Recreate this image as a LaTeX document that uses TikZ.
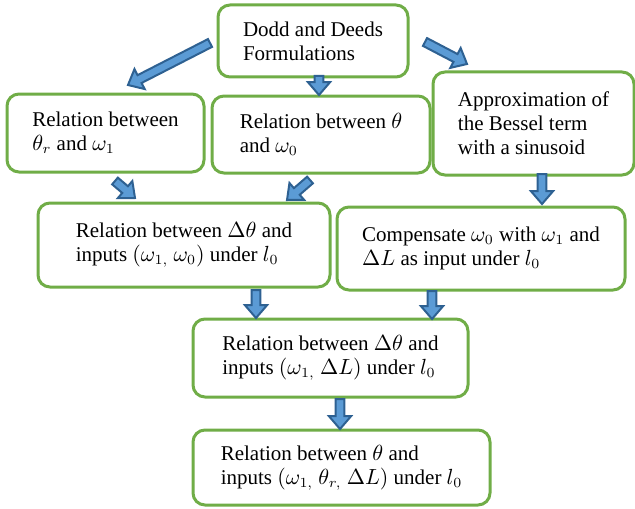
\documentclass[tikz,border=0pt]{standalone}
\usepackage{fontspec}
\setmainfont{Liberation Serif}
\usetikzlibrary{calc}
\definecolor{boxgreen}{HTML}{70AD47}
\definecolor{arrowfill}{HTML}{5B9BD5}
\definecolor{arrowedge}{HTML}{2E6192}
\def\blockarrow(#1)(#2){%
	\coordinate (ba-h) at ($(#2)!6.5pt!(#1)$);
	\draw[line width=1pt, draw=arrowedge, fill=arrowfill]
	($(#1)!2.2pt!-90:(#2)$) -- ($(ba-h)!2.2pt!90:(#1)$) -- ($(ba-h)!5.6pt!90:(#1)$) -- (#2)
	-- ($(ba-h)!5.6pt!-90:(#1)$) -- ($(ba-h)!2.2pt!-90:(#1)$) -- ($(#1)!2.2pt!90:(#2)$) -- cycle;}
\tikzset{stage/.style={draw=boxgreen, line width=1.5pt, rounded corners=6pt, fill=white,
	align=left, inner sep=0pt, font=\fontsize{10.5}{12}\selectfont}}

\begin{document}
\begin{tikzpicture}[x=0.5pt, y=-0.5pt]
			%%%%% START %%%%%
			\useasboundingbox (0,0) rectangle (635,508);
			
			\node[stage, minimum width=95pt, minimum height=36pt] (dodd) at (313,41) {Dodd and Deeds\\Formulations};
			\node[stage, minimum width=98.5pt, minimum height=39pt] (thetar) at (105.5,133) {Relation between\\$\theta_r$ and $\omega_1$};
			\node[stage, minimum width=109pt, minimum height=38.5pt] (theta) at (321,134.5) {Relation between $\theta$\\and $\omega_0$};
			\node[stage, minimum width=100.5pt, minimum height=51.5pt] (bessel) at (533.5,123.5) {Approximation of\\the Bessel term\\with a sinusoid};
			
			\node[stage, minimum width=146pt, minimum height=42pt] (dtheta) at (184,245) {Relation between $\Delta\theta$ and\\inputs $(\omega_{1,}\ \omega_0)$ under $l_0$};
			\node[stage, minimum width=144pt, minimum height=41.5pt] (comp) at (481,248.5) {Compensate $\omega_0$ with $\omega_1$ and\\$\Delta L$ as input under $l_0$};
			
			\node[stage, minimum width=137.5pt, minimum height=39pt] (dthetaL) at (330.5,358) {Relation between $\Delta\theta$ and\\inputs $(\omega_{1,}\ \Delta L)$ under $l_0$};
			\node[stage, minimum width=148.5pt, minimum height=37.5pt] (final) at (341.5,467.5) {Relation between $\theta$ and\\inputs $(\omega_{1,}\ \theta_{r,}\ \Delta L)$ under $l_0$};
			
			% arrow ends
			\coordinate (dodd-w) at (210,43);    \coordinate (thetar-in) at (128,85);
			\coordinate (dodd-e) at (425,42);    \coordinate (bessel-in) at (467,64);
			\coordinate (dodd-s) at (319,76);    \coordinate (theta-in) at (319,95);
			\coordinate (thetar-s) at (115,181); \coordinate (dtheta-in1) at (135,198);
			\coordinate (theta-s) at (310,180);  \coordinate (dtheta-in2) at (287,200);
			\coordinate (bessel-s) at (542,174); \coordinate (comp-in) at (542,204);
			\coordinate (dtheta-s) at (256,290); \coordinate (dthetaL-in1) at (256,318);
			\coordinate (comp-s) at (432,291);   \coordinate (dthetaL-in2) at (432,319);
			\coordinate (dthetaL-s) at (340,399); \coordinate (final-in) at (340,429);
			
			\blockarrow(dodd-w)(thetar-in)
			\blockarrow(dodd-e)(bessel-in)
			\blockarrow(dodd-s)(theta-in)
			\blockarrow(thetar-s)(dtheta-in1)
			\blockarrow(theta-s)(dtheta-in2)
			\blockarrow(bessel-s)(comp-in)
			\blockarrow(dtheta-s)(dthetaL-in1)
			\blockarrow(comp-s)(dthetaL-in2)
			\blockarrow(dthetaL-s)(final-in)
			
			%%%%% END %%%%%
\end{tikzpicture}
\end{document}
